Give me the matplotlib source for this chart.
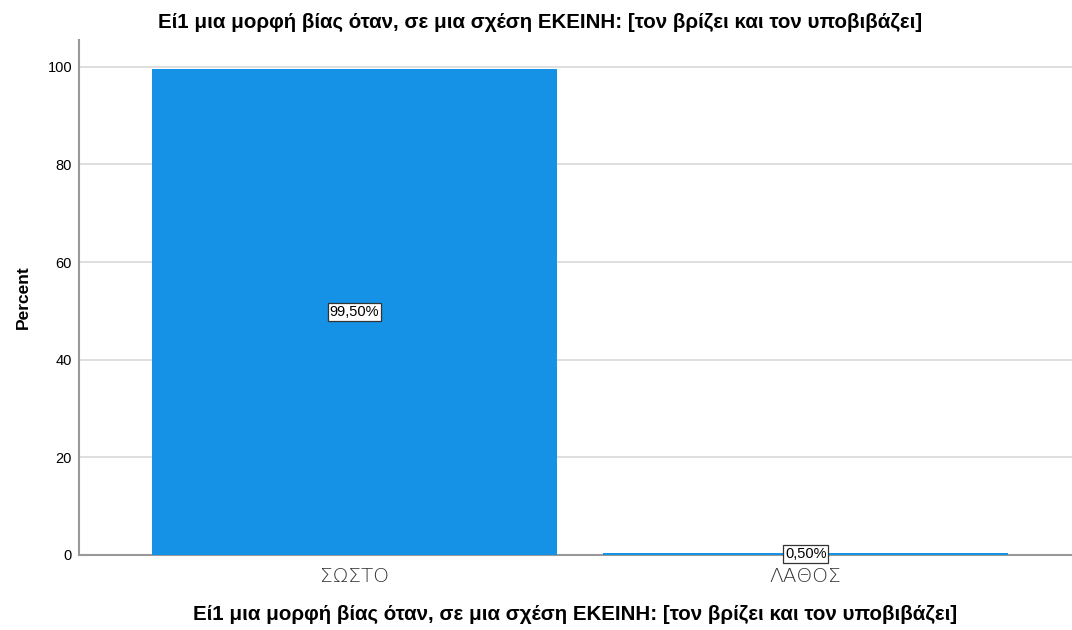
import matplotlib
matplotlib.use('Agg')
import matplotlib.pyplot as plt

title = 'Εί1 μια μορφή βίας όταν, σε μια σχέση ΕΚΕΙΝΗ: [τον βρίζει και τον υποβιβάζει]'
categories = ['ΣΩΣΤΟ', 'ΛΑΘΟΣ']
percent = [99.5, 0.5]
labels = ['99,50%', '0,50%']
yticks = [0, 20, 40, 60, 80, 100]

plt.rcParams['font.family'] = ['Liberation Sans', 'DejaVu Sans']

fig = plt.figure(figsize=(10.72, 6.3), dpi=100)
ax = fig.add_axes([79 / 1072, 75 / 630, 1 - 79 / 1072, 515 / 630])

x = list(range(len(categories)))
ax.bar(x, percent, width=0.896, color='#1591E6', zorder=3)

for xi, v, lab in zip(x, percent, labels):
    ax.text(xi, v / 2, lab, ha='center', va='center', fontsize=10.5, zorder=4,
            bbox=dict(boxstyle='square,pad=0.12', fc='white', ec='#333333', lw=0.9))

ax.set_xlim(-0.61, 1.59)
ax.set_ylim(0, 105.5)
ax.set_yticks(yticks)
ax.set_yticklabels([str(t) for t in yticks], fontsize=10.5)
ax.set_xticks(x)
ax.set_xticklabels(categories, fontsize=14.5, fontfamily=['DejaVu Sans'],
                   fontweight='light', color='#333333')
ax.tick_params(axis='both', length=0)
ax.tick_params(axis='y', pad=5)
ax.tick_params(axis='x', pad=9)

ax.yaxis.grid(True, color='#d9d9d9', lw=1.2, zorder=0)
ax.set_axisbelow(True)
for s in ['top', 'right']:
    ax.spines[s].set_visible(False)
for s in ['left', 'bottom']:
    ax.spines[s].set_color('#999999')
    ax.spines[s].set_linewidth(1.5)
    ax.spines[s].set_zorder(2)

ax.set_ylabel('Percent', fontsize=12.5, fontweight='bold', labelpad=12)
ax.set_xlabel(title, fontsize=14.8, fontweight='bold', labelpad=13)
fig.text(0.504, 1 - 22 / 630, title, ha='center', va='center',
         fontsize=14.8, fontweight='bold')

fig.savefig('out.png', dpi=100)
